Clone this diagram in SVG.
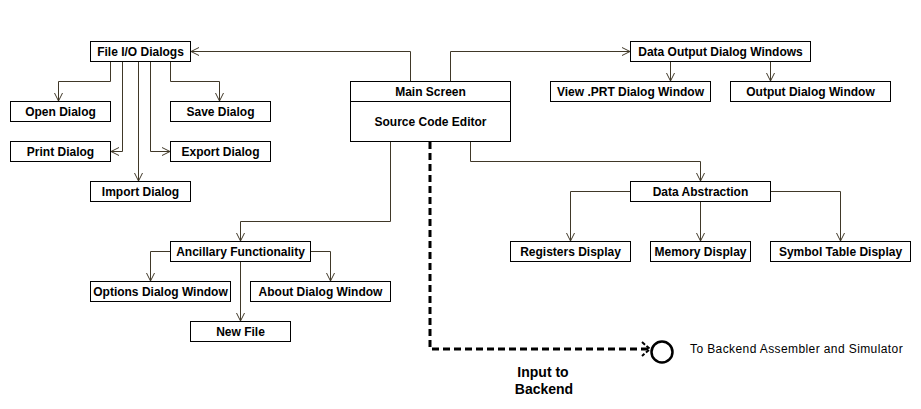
<svg xmlns="http://www.w3.org/2000/svg" width="921" height="409" viewBox="0 0 921 409">
<defs>
<marker id="arr" viewBox="0 0 10 10" refX="9" refY="5" markerWidth="10" markerHeight="10" markerUnits="userSpaceOnUse" orient="auto">
<path d="M1,1 L9,5 L1,9" fill="none" stroke="#403828" stroke-width="1"/>
</marker>
</defs>
<style>
.box{fill:#fff;stroke:#000;stroke-width:1}
.lbl{font-family:"Liberation Sans",Arial,sans-serif;font-size:12px;font-weight:bold;fill:#000;text-anchor:middle}
.c{fill:none;stroke:#403828;stroke-width:1;marker-end:url(#arr)}
</style>
<rect width="921" height="409" fill="#fff"/>
<g id="connectors">
<path class="c" d="M410.5,81.5 V51.5 H191"/>
<path class="c" d="M450.5,81.5 V51.5 H630"/>
<path class="c" d="M670.5,61.5 V81"/>
<path class="c" d="M770.5,61.5 V81"/>
<path class="c" d="M470.5,141.5 V161.5 H700.5 V181"/>
<path class="c" d="M630.5,191.5 H570.5 V241"/>
<path class="c" d="M700.5,201.5 V241"/>
<path class="c" d="M770.5,191.5 H840.5 V241"/>
<path class="c" d="M390.5,141.5 V221.5 H240.5 V241"/>
<path class="c" d="M170.5,251.5 H150.5 V281"/>
<path class="c" d="M310.5,251.5 H330.5 V281"/>
<path class="c" d="M240.5,261.5 V321"/>
<path class="c" d="M110.5,61.5 V81.5 H58.5 V101"/>
<path class="c" d="M122.5,61.5 V151.5 H111"/>
<path class="c" d="M138.5,61.5 V181"/>
<path class="c" d="M150.5,61.5 V151.5 H170"/>
<path class="c" d="M170.5,61.5 V81.5 H219.5 V101"/>
<path d="M430,142 V349 H648" fill="none" stroke="#000" stroke-width="3" stroke-dasharray="7,4"/>
<path d="M642,342 L650,349 L642,356" fill="none" stroke="#000" stroke-width="2" stroke-dasharray="4,2"/>
</g>
<g id="fileio"><rect class="box" x="90.5" y="41.5" width="100" height="20"/><text class="lbl" x="140.5" y="56">File I/O Dialogs</text></g>
<g id="open"><rect class="box" x="10.5" y="101.5" width="100" height="20"/><text class="lbl" x="60.5" y="116">Open Dialog</text></g>
<g id="save"><rect class="box" x="170.5" y="101.5" width="100" height="20"/><text class="lbl" x="220.5" y="116">Save Dialog</text></g>
<g id="print"><rect class="box" x="10.5" y="141.5" width="100" height="20"/><text class="lbl" x="60.5" y="156">Print Dialog</text></g>
<g id="export"><rect class="box" x="170.5" y="141.5" width="100" height="20"/><text class="lbl" x="220.5" y="156">Export Dialog</text></g>
<g id="import"><rect class="box" x="90.5" y="181.5" width="100" height="20"/><text class="lbl" x="140.5" y="196">Import Dialog</text></g>
<g id="main"><rect class="box" x="350.5" y="81.5" width="160" height="60"/><line x1="350.5" y1="101.5" x2="510.5" y2="101.5" stroke="#000"/><text class="lbl" x="430.5" y="96">Main Screen</text><text class="lbl" x="430.5" y="126">Source Code Editor</text></g>
<g id="dataout"><rect class="box" x="630.5" y="41.5" width="180" height="20"/><text class="lbl" x="720.5" y="56">Data Output Dialog Windows</text></g>
<g id="viewprt"><rect class="box" x="550.5" y="81.5" width="160" height="20"/><text class="lbl" x="630.5" y="96">View .PRT Dialog Window</text></g>
<g id="outdlg"><rect class="box" x="730.5" y="81.5" width="160" height="20"/><text class="lbl" x="810.5" y="96">Output Dialog Window</text></g>
<g id="dataabs"><rect class="box" x="630.5" y="181.5" width="140" height="20"/><text class="lbl" x="700.5" y="196">Data Abstraction</text></g>
<g id="regs"><rect class="box" x="510.5" y="241.5" width="120" height="20"/><text class="lbl" x="570.5" y="256">Registers Display</text></g>
<g id="mem"><rect class="box" x="650.5" y="241.5" width="100" height="20"/><text class="lbl" x="700.5" y="256">Memory Display</text></g>
<g id="sym"><rect class="box" x="770.5" y="241.5" width="140" height="20"/><text class="lbl" x="840.5" y="256">Symbol Table Display</text></g>
<g id="anc"><rect class="box" x="170.5" y="241.5" width="140" height="20"/><text class="lbl" x="240.5" y="256">Ancillary Functionality</text></g>
<g id="options"><rect class="box" x="90.5" y="281.5" width="140" height="20"/><text class="lbl" x="160.5" y="296">Options Dialog Window</text></g>
<g id="about"><rect class="box" x="250.5" y="281.5" width="140" height="20"/><text class="lbl" x="320.5" y="296">About Dialog Window</text></g>
<g id="newfile"><rect class="box" x="190.5" y="321.5" width="100" height="20"/><text class="lbl" x="240.5" y="336">New File</text></g>
<g id="backend"><circle cx="662" cy="352" r="10.5" fill="#fff" stroke="#000" stroke-width="2.5"/><text x="690" y="353" font-family="Liberation Sans, Arial, sans-serif" font-size="12" letter-spacing="0.4" fill="#000">To Backend Assembler and Simulator</text></g>
<g id="input-label"><text x="543" y="377" font-family="Liberation Sans, Arial, sans-serif" font-size="14" font-weight="bold" fill="#000" text-anchor="middle">Input to</text><text x="544" y="394" font-family="Liberation Sans, Arial, sans-serif" font-size="14" font-weight="bold" fill="#000" text-anchor="middle">Backend</text></g>
</svg>
